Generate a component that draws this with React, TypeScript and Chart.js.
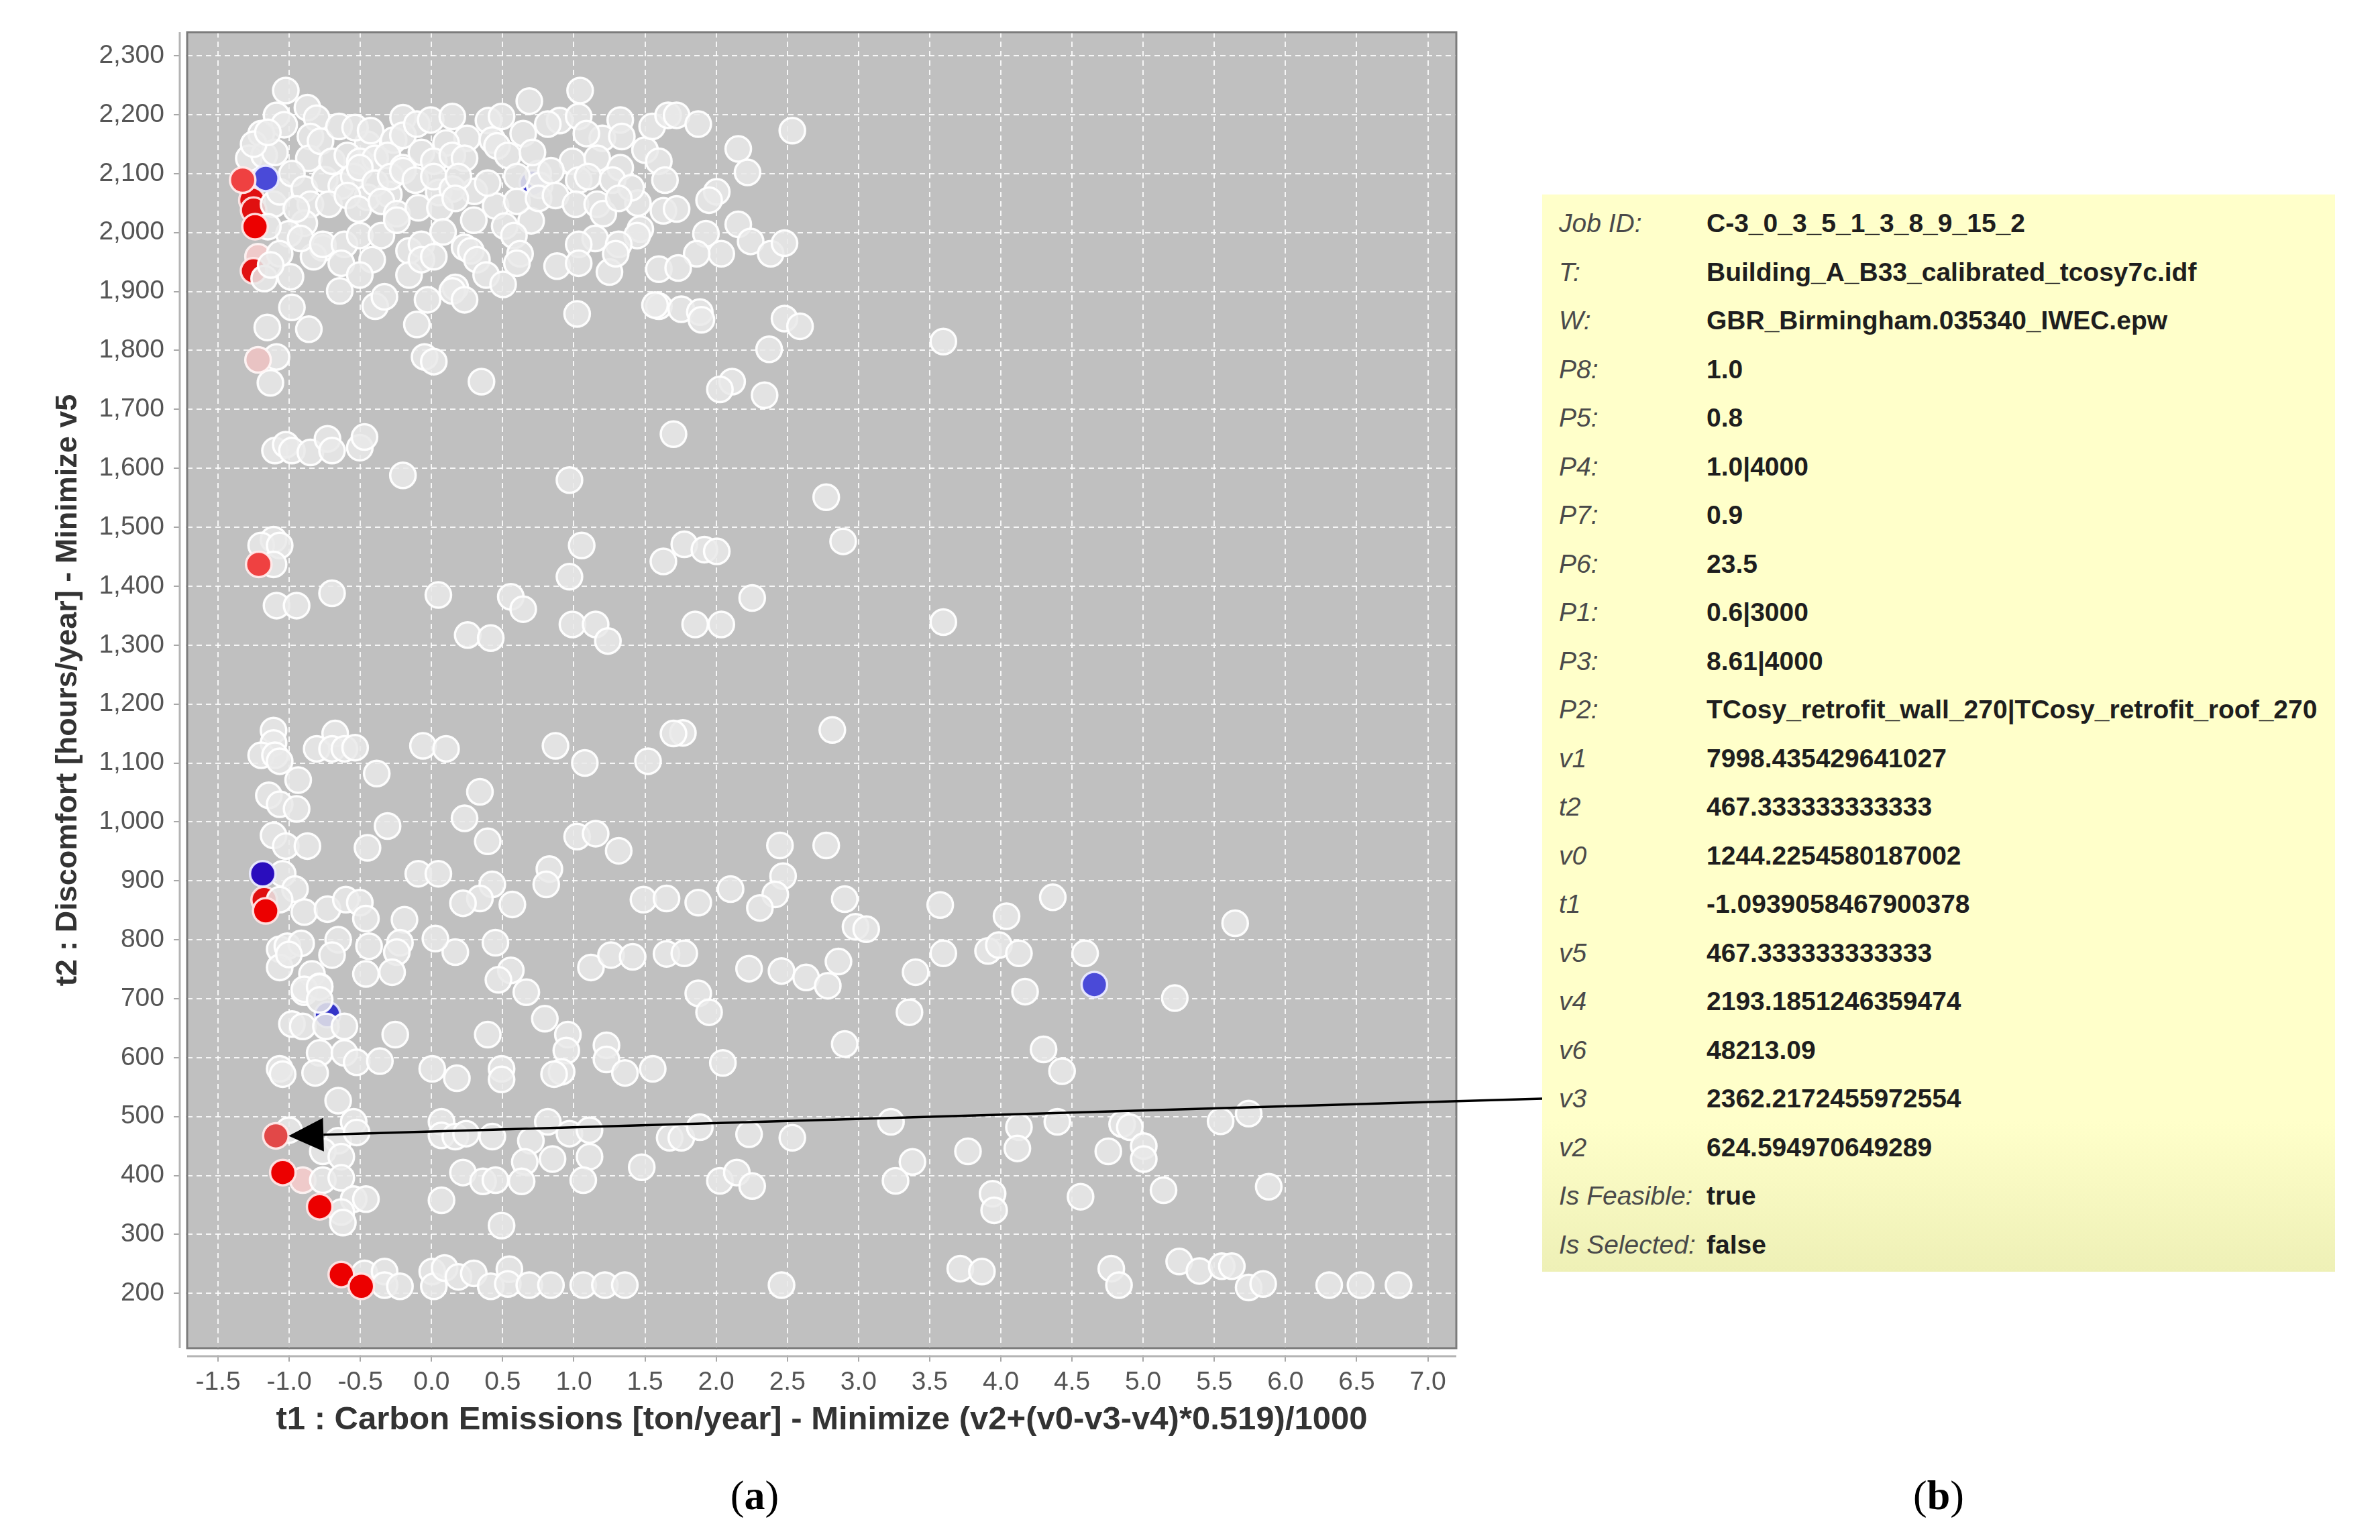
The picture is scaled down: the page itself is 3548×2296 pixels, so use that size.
import React, { useEffect, useRef } from "react";
import { Chart, registerables } from "chart.js";

Chart.register(...registerables);

// ---------------- data (t1 = carbon emissions, t2 = discomfort) ----------------
const X_TICKS = [-1.5, -1.0, -0.5, 0.0, 0.5, 1.0, 1.5, 2.0, 2.5, 3.0, 3.5, 4.0, 4.5, 5.0, 5.5, 6.0, 6.5, 7.0];
const Y_TICKS = [200, 300, 400, 500, 600, 700, 800, 900, 1000, 1100, 1200, 1300, 1400, 1500, 1600, 1700, 1800, 1900, 2000, 2100, 2200, 2300];
const X_MIN = -1.717;
const X_MAX = 7.2;
const Y_MIN = 107;
const Y_MAX = 2340;

const X_TITLE = "t1 : Carbon Emissions [ton/year] - Minimize (v2+(v0-v3-v4)*0.519)/1000";
const Y_TITLE = "t2 : Discomfort [hours/year] - Minimize v5";

const GRAY_TOP: [number, number][] = [
  [-1.024, 2241], [-0.872, 2212], [-0.807, 2194], [-1.089, 2199], [-1.035, 2183], [-1.197, 2168], [-0.851, 2163],
  [-1.284, 2126], [-1.176, 2131], [-1.1, 2136], [-0.862, 2126], [-1.11, 2048], [-1.067, 2069], [-0.981, 2100],
  [-0.894, 2074], [-0.851, 2048], [-0.894, 2016], [-0.764, 1974], [-0.829, 1959], [-1.002, 1998], [-1.067, 1964],
  [-1.176, 1922], [-0.991, 1925],
  [-1.25, 2150], [-1.15, 2170], [-1.15, 2010], [-1.13, 1945], [-0.95, 2040], [-0.92, 1990], [-0.75, 2090],
  [-0.78, 2155], [-0.65, 2180], [-0.45, 2060], [-0.3, 2065], [0.05, 2068], [0.3, 2070], [0.25, 2160], [0.45, 2045],
  [0.7, 2020], [0.75, 2100], [1.2, 2160], [1.5, 2140], [1.45, 2050], [0.4, 2190], [-0.45, 2150], [-0.2, 2195],
  [0.9, 2190], [1.15, 1990], [1.55, 2180], [0.76, 2080],
  [-0.537, 2178], [-0.428, 2173], [-0.266, 2157], [-0.201, 2165], [-0.103, 2184], [-0.006, 2191], [0.146, 2197],
  [0.102, 2152], [0.492, 2197], [0.687, 2223], [0.817, 2184], [0.644, 2168], [1.044, 2241], [1.034, 2197],
  [1.088, 2168], [1.326, 2191], [1.337, 2163], [1.662, 2199],
  [-0.699, 2121], [-0.591, 2131], [-0.504, 2121], [-0.396, 2126], [-0.309, 2131], [-0.201, 2110], [-0.071, 2136],
  [0.016, 2121], [0.146, 2131], [0.232, 2126], [0.427, 2157], [0.46, 2147], [0.536, 2131], [0.709, 2136],
  [0.99, 2121], [1.164, 2126], [1.326, 2110], [1.597, 2121],
  [-0.634, 2079], [-0.547, 2095], [-0.504, 2110], [-0.396, 2084], [-0.287, 2095], [-0.201, 2105], [-0.114, 2089],
  [0.016, 2095], [0.146, 2074], [0.189, 2095], [0.395, 2084], [0.6, 2095], [0.839, 2105], [1.034, 2089],
  [1.099, 2095], [1.272, 2089], [1.402, 2076], [1.64, 2089],
  [-0.721, 2048], [-0.591, 2063], [-0.515, 2040], [-0.352, 2053], [-0.244, 2032], [-0.093, 2042], [0.059, 2042],
  [0.167, 2058], [0.297, 2021], [0.6, 2053], [0.752, 2058], [0.871, 2063], [1.012, 2048], [1.164, 2048],
  [1.207, 2032], [1.315, 2058], [1.629, 2037], [1.467, 2006],
  [-0.764, 1980], [-0.612, 1980], [-0.504, 1995], [-0.352, 1995], [-0.244, 2021], [-0.158, 1969], [-0.071, 1980],
  [0.081, 2001], [0.232, 1975], [0.276, 1969], [0.514, 2011], [0.579, 1995], [0.622, 1964], [1.034, 1980],
  [1.445, 1995], [1.315, 1980],
  [-0.634, 1948], [-0.417, 1954], [-0.504, 1928], [-0.158, 1928], [-0.071, 1954], [0.016, 1959], [0.167, 1907],
  [0.319, 1954], [0.384, 1928], [0.503, 1912], [0.6, 1948], [0.882, 1943], [1.034, 1948], [1.25, 1933],
  [1.294, 1964], [1.597, 1938],
  [-0.645, 1901], [-0.396, 1875], [-0.331, 1891], [-0.028, 1886], [0.146, 1901], [0.232, 1886], [1.023, 1862],
  [1.597, 1875], [-0.981, 1873], [1.57, 1877],
  [-1.154, 1839], [-0.862, 1836], [-0.103, 1844], [-0.049, 1789], [0.016, 1781], [0.351, 1747], [-1.089, 1789],
  [-1.132, 1745],
  [1.722, 2199], [1.874, 2184], [2.535, 2173], [2.155, 2142], [2.22, 2102], [2.004, 2069], [1.95, 2055],
  [1.722, 2040], [2.155, 2014], [1.928, 1998], [2.242, 1985], [2.036, 1964], [1.863, 1964], [2.383, 1964],
  [2.48, 1982], [1.733, 1940], [1.755, 1870], [1.885, 1865], [1.896, 1852], [2.48, 1854], [2.589, 1841],
  [2.372, 1802], [3.596, 1815], [2.112, 1747], [2.026, 1734], [2.34, 1724],
];

const GRAY_MIDDLE: [number, number][] = [
  [-1.1, 1630], [-1.024, 1640], [-0.981, 1630], [-0.851, 1627], [-0.731, 1650], [-0.699, 1630], [-0.504, 1635],
  [-0.471, 1653], [-0.201, 1588], [0.969, 1580], [1.7, 1658], [2.773, 1551],
  [-1.11, 1479], [-1.197, 1469], [-1.067, 1469], [-1.11, 1437], [-1.089, 1367], [-0.948, 1367], [-0.699, 1388],
  [0.048, 1385], [0.254, 1317], [0.416, 1312], [0.557, 1382], [0.644, 1361], [1.055, 1469], [0.969, 1416],
  [0.99, 1335], [1.153, 1335], [1.239, 1307], [1.629, 1442],
  [1.776, 1471], [1.917, 1462], [2.004, 1459], [2.892, 1476], [2.253, 1380], [1.852, 1335], [2.036, 1335],
  [3.596, 1339], [1.766, 1151], [2.816, 1156],
  [-1.11, 1155], [-1.11, 1134], [-1.197, 1113], [-1.1, 1113], [-1.067, 1103], [-0.807, 1124], [-0.677, 1150],
  [-0.699, 1124], [-0.612, 1124], [-0.537, 1126], [-0.385, 1082], [-0.06, 1129], [0.102, 1124], [0.871, 1129],
  [1.077, 1100], [1.521, 1103], [1.7, 1150],
  [-0.937, 1071], [-1.143, 1045], [-1.067, 1030], [-0.948, 1022], [0.34, 1051], [0.232, 1006], [0.395, 967],
  [-0.309, 993], [-0.45, 956], [-1.11, 977], [-1.024, 959], [-0.872, 959],
];

const GRAY_LOWER: [number, number][] = [
  [-1.046, 912], [-0.959, 886], [-1.067, 868], [-0.894, 847], [-0.731, 852], [-0.602, 868], [-0.504, 863],
  [-0.461, 836], [-0.19, 834], [-0.093, 912], [0.048, 912], [0.427, 894], [0.34, 870], [0.221, 862], [0.568, 860],
  [0.828, 920], [0.806, 894], [1.023, 975], [1.153, 980], [1.315, 951], [1.489, 868], [1.651, 870],
  [0.449, 795], [0.167, 779], [0.027, 802], [0.557, 748], [0.47, 732], [0.666, 711], [1.12, 753], [1.261, 774],
  [1.413, 771], [1.651, 776], [-1.067, 784], [-1.013, 789], [-1.067, 753], [-0.916, 794], [-0.84, 742],
  [-0.786, 721], [-0.656, 800], [-0.699, 774], [-0.439, 789], [-0.461, 742], [-0.222, 795], [-0.244, 779],
  [-0.277, 745], [-0.894, 711],
  [-1.002, 775], [-0.894, 716], [-0.786, 720], [-0.786, 698], [-0.981, 657], [-0.905, 653], [-0.742, 653],
  [-0.612, 653], [-0.255, 639], [-0.786, 608], [-0.612, 608], [-0.526, 592], [-0.363, 594], [-1.067, 581],
  [-1.046, 572], [-0.818, 574], [-0.656, 527],
  [0.395, 639], [0.005, 581], [0.178, 565], [0.492, 581], [0.492, 563], [0.796, 666], [0.958, 639], [0.947, 612],
  [0.914, 576], [0.861, 572], [1.229, 621], [1.229, 597], [1.359, 574], [1.554, 581],
  [2.448, 960], [2.773, 960], [2.47, 908], [2.415, 877], [2.307, 854], [2.101, 886], [1.874, 863], [2.903, 869],
  [2.979, 822], [3.054, 818], [3.574, 859], [4.04, 840], [4.365, 872], [1.776, 777], [2.231, 751], [2.459, 747],
  [2.632, 736], [2.784, 722], [2.859, 763], [1.874, 709], [1.95, 677], [3.401, 745], [3.596, 777], [3.91, 781],
  [3.986, 791], [4.127, 777], [4.592, 777], [4.17, 712], [3.358, 677], [2.903, 623], [2.047, 591], [4.3, 614],
  [4.43, 577], [5.646, 828], [5.222, 701],
];

const GRAY_BOTTOM: [number, number][] = [
  [-0.547, 491], [-1.002, 477], [-0.656, 459], [-0.526, 473], [-0.764, 441], [-0.634, 432], [-0.764, 392],
  [-0.634, 396], [-0.547, 360], [-0.461, 360], [-0.634, 338], [-0.623, 320],
  [-0.471, 234], [-0.33, 237], [-0.33, 214], [-0.222, 212], [0.005, 237], [0.016, 212], [0.092, 243], [0.189, 228],
  [0.297, 234], [0.416, 212], [0.547, 241], [0.536, 216], [0.687, 214], [0.839, 214], [1.066, 214], [1.218, 214],
  [1.358, 214],
  [0.07, 491], [0.07, 468], [0.167, 466], [0.243, 471], [0.427, 466], [0.817, 491], [0.969, 471], [1.11, 477],
  [0.698, 459], [0.655, 423], [0.85, 428], [1.11, 432], [0.221, 405], [0.362, 390], [0.449, 392], [0.633, 390],
  [1.066, 392], [1.477, 414], [0.07, 358], [0.492, 315], [1.673, 464],
  [1.755, 464], [1.885, 482], [2.231, 470], [2.535, 464], [3.228, 491], [3.769, 441], [4.127, 482], [4.116, 446],
  [4.397, 491], [4.852, 487], [4.906, 482], [4.755, 441], [5.004, 450], [5.004, 428], [3.379, 423], [3.26, 391],
  [3.942, 369], [3.953, 341], [4.56, 364], [2.026, 391], [2.145, 405], [2.253, 382], [2.459, 214], [3.715, 242],
  [3.867, 237], [4.776, 242], [4.83, 214],
  [5.544, 492], [5.741, 505], [5.143, 375], [5.882, 381], [5.253, 254], [5.395, 238], [5.552, 246], [5.623, 246],
  [5.741, 210], [5.843, 216], [6.307, 214], [6.527, 214], [6.794, 214],
];

// highlighted solutions
const RED_BRIGHT: [number, number][] = [[-1.24, 2010], [-1.165, 849], [-1.045, 405], [-0.786, 347], [-0.634, 232], [-0.493, 212]];
const RED_SOFT: [number, number][] = [[-1.327, 2089], [-1.214, 1437]];
const PINK_TOP: [number, number][] = [[-1.219, 1784]];
const BLUE_SOFT: [number, number][] = [[-1.165, 2092], [4.657, 724]];
const BLUE_DARK: [number, number][] = [[-1.186, 912]];
const RED_UNDER: [number, number][] = [[-1.262, 2055], [-1.25, 2038], [-1.251, 1935], [-1.176, 868]];
const PINK_UNDER: [number, number][] = [[-1.219, 1959], [-0.905, 392]];
const BLUE_UNDER: [number, number][] = [[0.709, 2084], [-0.731, 673]];

const SELECTED_T1 = -1.0939058467900378;
const SELECTED_T2 = 467.333333333333;

const PANEL_LABELS = ["Job ID:", "T:", "W:", "P8:", "P5:", "P4:", "P7:", "P6:", "P1:", "P3:", "P2:", "v1", "t2", "v0", "t1", "v5", "v4", "v6", "v3", "v2", "Is Feasible:", "Is Selected:"];
const PANEL_VALUES = [
  "C-3_0_3_5_1_3_8_9_15_2", "Building_A_B33_calibrated_tcosy7c.idf", "GBR_Birmingham.035340_IWEC.epw",
  "1.0", "0.8", "1.0|4000", "0.9", "23.5", "0.6|3000", "8.61|4000",
  "TCosy_retrofit_wall_270|TCosy_retrofit_roof_270", "7998.435429641027", "467.333333333333",
  "1244.2254580187002", "-1.0939058467900378", "467.333333333333", "2193.1851246359474", "48213.09",
  "2362.2172455972554", "624.594970649289", "true", "false",
];
const ARROW_ROW = 18; // "v3" row

// ---------------- layout constants ----------------
const W = 3548;
const H = 2296;
const FONT = "'Liberation Sans', Arial, sans-serif";
const PANEL_LEFT = 2299;
const PANEL_TOP = 290;
const PANEL_W = 1182;
const PANEL_H = 1606;
const ROW_FIRST = 43;
const ROW_H = 72.5;
const POINT_R = 19;

const toXY = (arr: [number, number][]) => arr.map(([x, y]) => ({ x, y }));

function pointSet(label: string, data: [number, number][], fill: string, border: string, order: number) {
  return {
    label,
    data: toXY(data),
    order,
    pointRadius: POINT_R,
    pointHoverRadius: POINT_R,
    pointBorderWidth: 3.5,
    pointBackgroundColor: fill,
    pointBorderColor: border,
    showLine: false,
  };
}

const framePlugin = {
  id: "frame",
  beforeDraw(chart: any) {
    const { ctx, chartArea: a } = chart;
    ctx.save();
    ctx.fillStyle = "#c0c0c0";
    ctx.fillRect(a.left, a.top, a.right - a.left, a.bottom - a.top);
    ctx.restore();
  },
  afterDraw(chart: any) {
    const { ctx, chartArea: a, scales } = chart;
    ctx.save();
    // gap between the offset axes and the plot frame
    ctx.fillStyle = "#ffffff";
    ctx.fillRect(a.left - 10, a.top - 2, 8.5, a.bottom - a.top + 14);
    ctx.fillRect(a.left - 2, a.bottom + 1.5, a.right - a.left + 4, 9);
    // offset axis lines
    ctx.strokeStyle = "#b4b4b4";
    ctx.lineWidth = 3;
    ctx.beginPath();
    ctx.moveTo(a.left - 11, a.top);
    ctx.lineTo(a.left - 11, a.bottom);
    ctx.moveTo(a.left, a.bottom + 12);
    ctx.lineTo(a.right, a.bottom + 12);
    ctx.stroke();
    // plot frame
    ctx.strokeStyle = "#7c7c7c";
    ctx.lineWidth = 3;
    ctx.strokeRect(a.left, a.top, a.right - a.left, a.bottom - a.top);

    // arrow from the info panel to the selected solution
    const px = scales.x.getPixelForValue(SELECTED_T1);
    const py = scales.y.getPixelForValue(SELECTED_T2);
    const sx = PANEL_LEFT;
    const sy = PANEL_TOP + ROW_FIRST + ARROW_ROW * ROW_H;
    const tx = px + POINT_R;
    const ty = py;
    const dx = sx - tx;
    const dy = sy - ty;
    const len = Math.hypot(dx, dy);
    const ux = dx / len;
    const uy = dy / len;
    const headL = 52;
    const headW = 25;
    const bx = tx + ux * headL;
    const by = ty + uy * headL;
    ctx.strokeStyle = "#000";
    ctx.lineWidth = 3.5;
    ctx.beginPath();
    ctx.moveTo(sx, sy);
    ctx.lineTo(bx, by);
    ctx.stroke();
    ctx.fillStyle = "#000";
    ctx.beginPath();
    ctx.moveTo(tx, ty);
    ctx.lineTo(bx - uy * headW, by + ux * headW);
    ctx.lineTo(bx + uy * headW, by - ux * headW);
    ctx.closePath();
    ctx.fill();
    ctx.restore();
  },
};

export default function App() {
  const ref = useRef<HTMLCanvasElement>(null);

  useEffect(() => {
    const canvas = ref.current;
    if (!canvas) return;
    const grayFill = "rgba(233,233,233,0.86)";
    const grayBorder = "rgba(255,255,255,0.95)";
    const chart = new Chart(canvas, {
      type: "scatter",
      data: {
        datasets: [
          pointSet("under-red", RED_UNDER, "#e01010", "rgba(255,235,235,0.9)", 4),
          pointSet("under-pink", PINK_UNDER, "#efcaca", "rgba(255,245,245,0.9)", 4),
          pointSet("under-blue", BLUE_UNDER, "#3434c8", "rgba(235,235,255,0.9)", 4),
          pointSet("top", GRAY_TOP, grayFill, grayBorder, 3),
          pointSet("middle", GRAY_MIDDLE, grayFill, grayBorder, 3),
          pointSet("lower", GRAY_LOWER, grayFill, grayBorder, 3),
          pointSet("bottom", GRAY_BOTTOM, grayFill, grayBorder, 3),
          pointSet("red", RED_BRIGHT, "#ec0000", "rgba(255,230,230,0.95)", 1),
          pointSet("red-soft", RED_SOFT, "#ef4141", "rgba(255,235,235,0.95)", 1),
          pointSet("pink", PINK_TOP, "#e9c3c3", "rgba(255,245,245,0.95)", 1),
          pointSet("blue-soft", BLUE_SOFT, "#4a4ad8", "rgba(235,235,255,0.95)", 1),
          pointSet("blue-dark", BLUE_DARK, "#2a0dbd", "rgba(235,235,255,0.95)", 1),
          pointSet("selected", [[SELECTED_T1, SELECTED_T2]], "#e24848", "rgba(255,235,235,0.95)", 1),
        ] as any,
      },
      options: {
        responsive: false,
        maintainAspectRatio: false,
        devicePixelRatio: 1,
        animation: false,
        events: [],
        layout: { padding: { left: 0, top: 48, right: W - 2171, bottom: 0 } },
        plugins: { legend: { display: false }, tooltip: { enabled: false }, title: { display: false } },
        scales: {
          x: {
            type: "linear",
            position: "bottom",
            min: X_MIN,
            max: X_MAX,
            afterBuildTicks: (s: any) => {
              s.ticks = X_TICKS.map((v) => ({ value: v }));
            },
            afterFit: (s: any) => {
              s.height = H - 2010;
            },
            grid: {
              color: "rgba(255,255,255,0.85)",
              lineWidth: 2,
              drawTicks: true,
              tickLength: 20,
              tickColor: "#a8a8a8",
              tickWidth: 2,
              tickBorderDash: [],
            },
            border: { display: false, dash: [8, 6] },
            ticks: {
              color: "#555",
              font: { family: FONT, size: 39 },
              padding: 8,
              maxRotation: 0,
              autoSkip: false,
              callback: (v: any) => Number(v).toFixed(1),
            },
            title: {
              display: true,
              text: X_TITLE,
              color: "#333",
              font: { family: FONT, size: 49, weight: "bold" },
              padding: { top: 0, bottom: 149 },
            },
          },
          y: {
            type: "linear",
            position: "left",
            min: Y_MIN,
            max: Y_MAX,
            afterBuildTicks: (s: any) => {
              s.ticks = Y_TICKS.map((v) => ({ value: v }));
            },
            afterFit: (s: any) => {
              s.width = 279;
            },
            grid: {
              color: "rgba(255,255,255,0.85)",
              lineWidth: 2,
              drawTicks: true,
              tickLength: 20,
              tickColor: "#a8a8a8",
              tickWidth: 2,
              tickBorderDash: [],
            },
            border: { display: false, dash: [8, 6] },
            ticks: {
              color: "#555",
              font: { family: FONT, size: 39 },
              padding: 14,
              autoSkip: false,
              callback: (v: any) => Number(v).toLocaleString("en-US"),
            },
            title: {
              display: true,
              text: Y_TITLE,
              color: "#333",
              font: { family: FONT, size: 45, weight: "bold" },
              padding: { top: 75, bottom: 0 },
            },
          },
        },
      } as any,
      plugins: [framePlugin],
    });
    return () => chart.destroy();
  }, []);

  return (
    <div style={{ position: "absolute", left: 0, top: 0, width: W, height: H, background: "#fff", overflow: "hidden" }}>
      <canvas ref={ref} width={W} height={H} style={{ position: "absolute", left: 0, top: 0, width: W, height: H }} />
      <div
        style={{
          position: "absolute",
          left: PANEL_LEFT,
          top: PANEL_TOP,
          width: PANEL_W,
          height: PANEL_H,
          background: "linear-gradient(180deg, #ffffca 0%, #ffffca 86%, #eef0b6 100%)",
        }}
      >
        {PANEL_LABELS.map((lab, i) => (
          <div
            key={lab + i}
            style={{
              position: "absolute",
              left: 0,
              top: ROW_FIRST + i * ROW_H - ROW_H / 2,
              height: ROW_H,
              width: PANEL_W,
              display: "flex",
              alignItems: "center",
              fontFamily: FONT,
              fontSize: 39,
              whiteSpace: "nowrap",
            }}
          >
            <span style={{ position: "absolute", left: 25, fontStyle: "italic", color: "#4a4a4a" }}>{lab}</span>
            <span style={{ position: "absolute", left: 245, fontWeight: 700, color: "#1e1e1e" }}>{PANEL_VALUES[i]}</span>
          </div>
        ))}
      </div>
      <div
        style={{
          position: "absolute",
          left: 1125,
          top: 2229,
          transform: "translate(-50%, -50%)",
          fontFamily: "'Liberation Serif', 'Times New Roman', serif",
          fontSize: 62,
          color: "#000",
        }}
      >
        (<b>a</b>)
      </div>
      <div
        style={{
          position: "absolute",
          left: 2890,
          top: 2229,
          transform: "translate(-50%, -50%)",
          fontFamily: "'Liberation Serif', 'Times New Roman', serif",
          fontSize: 62,
          color: "#000",
        }}
      >
        (<b>b</b>)
      </div>
    </div>
  );
}
